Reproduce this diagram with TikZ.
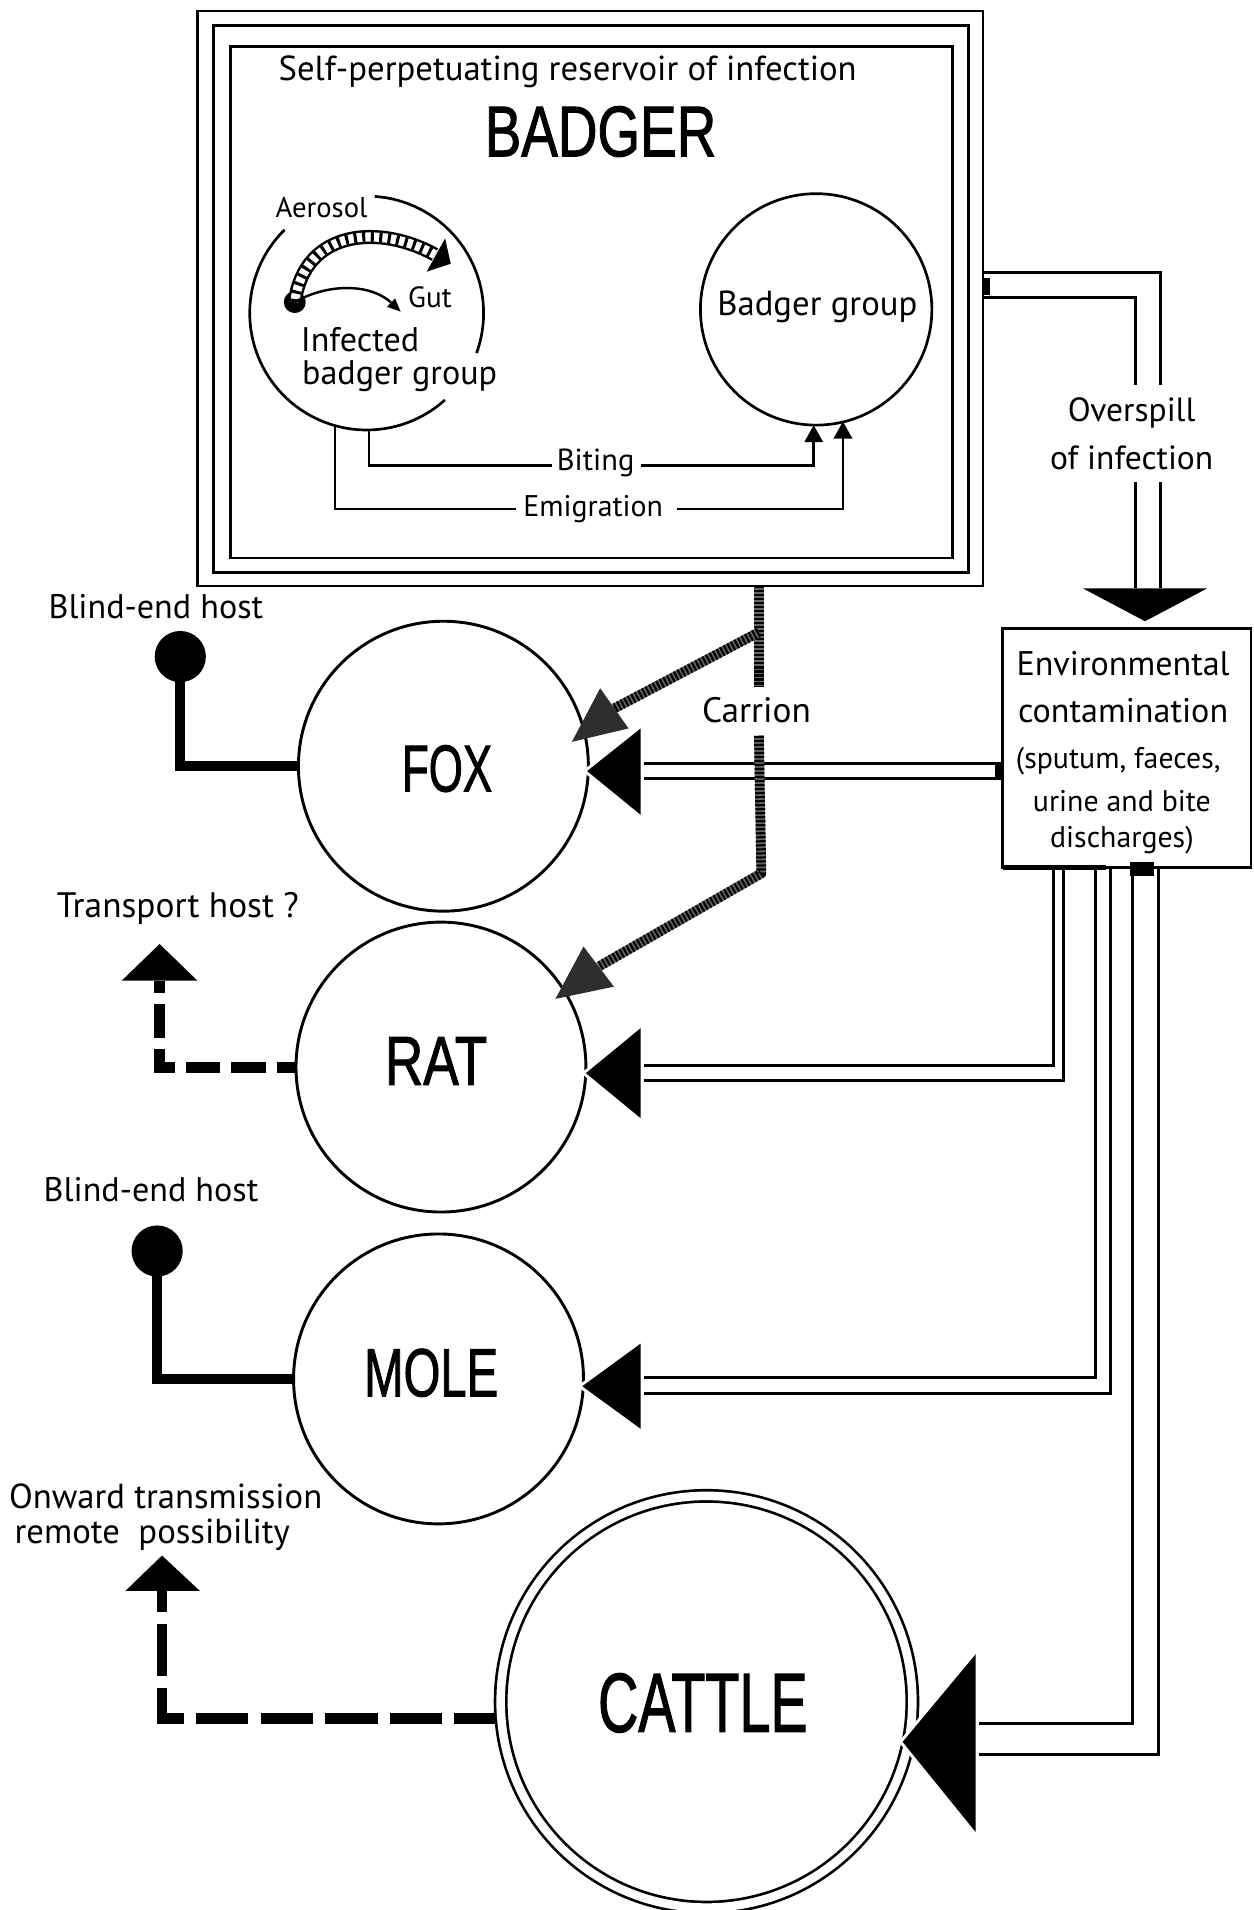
\documentclass[tikz,border=0pt]{standalone}
\usepackage{fontspec}
\setmainfont{PT Sans}
\newfontfamily\bigfont{Liberation Sans}[FakeBold=1.6]
\usetikzlibrary{arrows.meta}
\newcommand\biglab[3]{\resizebox{#1pt}{#2pt}{\bigfont #3}}
\begin{document}
\begin{tikzpicture}[x=1pt,y=-1pt,
  every node/.style={inner sep=0pt, outer sep=0pt},
  fs/.style={font=\fontsize{#1}{#1}\selectfont},
  frame/.style={draw, line width=2.2pt},
  conn/.style={line width=2.4pt},
  thinconn/.style={line width=2pt},
  host/.style={circle, draw, line width=2.4pt, minimum size=#1},
  bigtri/.style={fill=black, preaction={draw=white, line width=5pt}},
  carrionbase/.style={line width=8pt, draw=black!60, line join=round},
  carriondots/.style={line width=8pt, draw=black, dash pattern=on 1.8pt off 1.5pt, line join=round},
  blind/.style={line width=8pt, line join=miter},
  dashA/.style={line width=9pt, line join=miter, dash pattern=on 28pt off 9pt, dash phase=12pt},
  dashB/.style={line width=9pt, line join=miter, dash pattern=on 43pt off 10pt, dash phase=10pt},
  ball/.style={circle, fill=black, minimum size=42pt},
  smallarrow/.style={-{Triangle[length=14pt,width=15pt]}},
]
\useasboundingbox (0,0) rectangle (1029,1568);
\fill[white] (0,0) rectangle (1029,1568);

% ---------------- BADGER box ----------------
\draw[frame] (162,9) rectangle (807,481);
\draw[frame] (175,21) rectangle (795,470);
\node[frame, minimum width=593pt, minimum height=420pt] (badger) at (485.5,248) {};
\node[fs=28.5] (title) at (466,59) {Self-perpetuating reservoir of infection};
\node (badgerlab) at (493,108) {\biglab{190}{41}{BADGER}};

% infected group (broken circle)
\coordinate (igc) at (301,257);
\draw[line width=2.2pt] (igc) ++(-134.6:96) arc[start angle=-134.6, end angle=-312, radius=96];
\draw[line width=2.2pt] (igc) ++(20:96) arc[start angle=20, end angle=-86, radius=96];
\node[circle, fill=black, minimum size=18pt] (dot) at (242,248) {};
\node[fs=23.5] (aerosol) at (264,170) {Aerosol};
% hatched aerosol arrow
\coordinate (aerend) at (357,209);
\draw[double distance=7.5pt, line width=2pt] (dot.center) .. controls (250,188) and (312,184) .. (aerend);
\draw[line width=10pt, dash pattern=on 2.5pt off 4.5pt] (dot.center) .. controls (250,188) and (312,184) .. (aerend);
\fill (365.4,195.7) -- (350.3,223) -- (370,216.5) -- cycle;
% gut arrow
\coordinate (gutend) at (329,256);
\draw[line width=2pt, -{Triangle[length=11pt,width=9pt]}] (dot.center) .. controls (270,232) and (305,233) .. (gutend);
\node[fs=24] (gut) at (353,244) {Gut};
\node[fs=28, anchor=west] (inf1) at (247,279) {Infected};
\node[fs=28, anchor=west] (inf2) at (248,309) {badger group};

% badger group
\node[host=190pt, line width=2.2pt] (bgroup) at (670,254) {};
\node[fs=28.5] (bglab) at (671,252) {Badger group};

% biting / emigration
\coordinate (bitA) at (302.7,353);
\coordinate (emiA) at (275,349);
\coordinate (bitB) at (668,349);
\coordinate (emiB) at (692,346);
\node[fs=25] (biting) at (489,380) {Biting};
\node[fs=24.5] (emig) at (487,418) {Emigration};
\draw[thinconn] (bitA) |- (453,382);
\draw[thinconn, smallarrow] (526,382) -| (bitB);
\draw[thinconn] (emiA) |- (424,418);
\draw[thinconn, smallarrow] (556,418) -| (emiB);

% ---------------- Overspill ----------------
\draw[conn] (807,224) -| (953,316);
\draw[conn] (807,244) -| (932,316);
\draw[conn] (953,396) -- (953,483);
\draw[conn] (932,396) -- (932,483);
\fill (806,228) rectangle (813,242);
\node[fs=27.5] (over1) at (929,339) {Overspill};
\node[fs=27.5] (over2) at (929,376) {of infection};
\coordinate (overtip) at (940,510);
\fill (889,483) -- (991,483) -- (overtip) -- cycle;

% ---------------- Environmental box ----------------
\node[frame, minimum width=204pt, minimum height=196pt] (env) at (925,614) {};
\draw[line width=4.5pt] (823,712) -- (908,712);
\fill (928,708) rectangle (947,719);
\fill (817,626) rectangle (823,640);
\node[fs=28] (e1) at (922,545) {Environmental};
\node[fs=28] (e2) at (922,583) {contamination};
\node[fs=24.5] (e3) at (918,625) {(sputum, faeces,};
\node[fs=24.5] (e4) at (921,658) {urine and bite};
\node[fs=24.5] (e5) at (921,690) {discharges)};

% ---------------- Hosts ----------------
\node[host=238pt] (fox) at (364,629) {};
\node[host=238pt] (rat) at (362,876) {};
\node[host=238pt] (mole) at (360,1132) {};
\node[circle, draw, line width=2.2pt, double, double distance=7pt, minimum size=338pt] (cattle) at (580,1397) {};
\node (foxlab) at (367,631) {\biglab{74}{38}{FOX}};
\node (ratlab) at (358,871) {\biglab{84}{39}{RAT}};
\node (molelab) at (354,1127) {\biglab{110}{39}{MOLE}};
\node (cattlelab) at (577,1398) {\biglab{172}{48}{CATTLE}};

% connectors from environment
\draw[conn] (env.west |- 0,627) -- (526,627);
\draw[conn] (env.west |- 0,639) -- (526,639);
\draw[conn] (865,712) |- (526,875);
\draw[conn] (873,712) |- (526,887);
\draw[conn] (899,712) |- (526,1131);
\draw[conn] (912,712) |- (526,1144);
\draw[conn] (930,712) |- (801,1415);
\draw[conn] (951,712) |- (801,1440);

% ---------------- Carrion ----------------
\coordinate (car0) at (623,481);
\coordinate (carfox) at (504.4,581.5);
\coordinate (carrat) at (491.5,793.5);
\draw[carrionbase] (car0) -- (623,564);
\draw[carriondots] (car0) -- (623,564);
\draw[carrionbase] (623,604) -- (625,717) -- (carrat);
\draw[carriondots] (623,604) -- (625,717) -- (carrat);
\draw[carrionbase] (623,519) -- (carfox);
\draw[carriondots] (623,519) -- (carfox);
\fill[black!82] (492.7,565) -- (469.5,609) -- (516,598) -- cycle;
\fill[black!82] (479,777) -- (456,820) -- (504,810) -- cycle;
\node[fs=29] (carrion) at (621,583) {Carrion};

% big arrowheads at hosts
\fill[bigtri] (482,633) -- (526,598) -- (526,669) -- cycle;
\fill[bigtri] (481,881) -- (526,844) -- (526,918) -- cycle;
\fill[bigtri] (478,1138) -- (526,1103) -- (526,1173) -- cycle;
\fill[bigtri] (741,1430) -- (801,1358) -- (801,1504) -- cycle;

% ---------------- Blind-end hosts ----------------
\node[fs=28] (blind1) at (128,498) {Blind-end host};
\node[ball] (ball1) at (148,539) {};
\draw[blind] (ball1.center) |- (fox.west);
\node[fs=28] (blind2) at (124,977) {Blind-end host};
\node[ball] (ball2) at (129,1027) {};
\draw[blind] (ball2.center) |- (mole.west);

% ---------------- Transport host ----------------
\node[fs=29] (transport) at (146,746) {Transport host ?};
\coordinate (ratbase) at (131,805);
\draw[dashA] (rat.west) -| (ratbase);
\fill (100,805) -- (162,805) -- (131,775) -- cycle;

% ---------------- Onward transmission ----------------
\node[fs=28.5] (onward1) at (136,1228) {Onward transmission};
\node[fs=28.5] (onward2) at (125,1260) {remote\ \ possibility};
\coordinate (cattleL) at (406,1411);
\coordinate (cattlebase) at (133,1306);
\draw[dashB] (cattleL) -| (cattlebase);
\fill (103,1306) -- (164,1306) -- (133,1277) -- cycle;
\end{tikzpicture}
\end{document}
